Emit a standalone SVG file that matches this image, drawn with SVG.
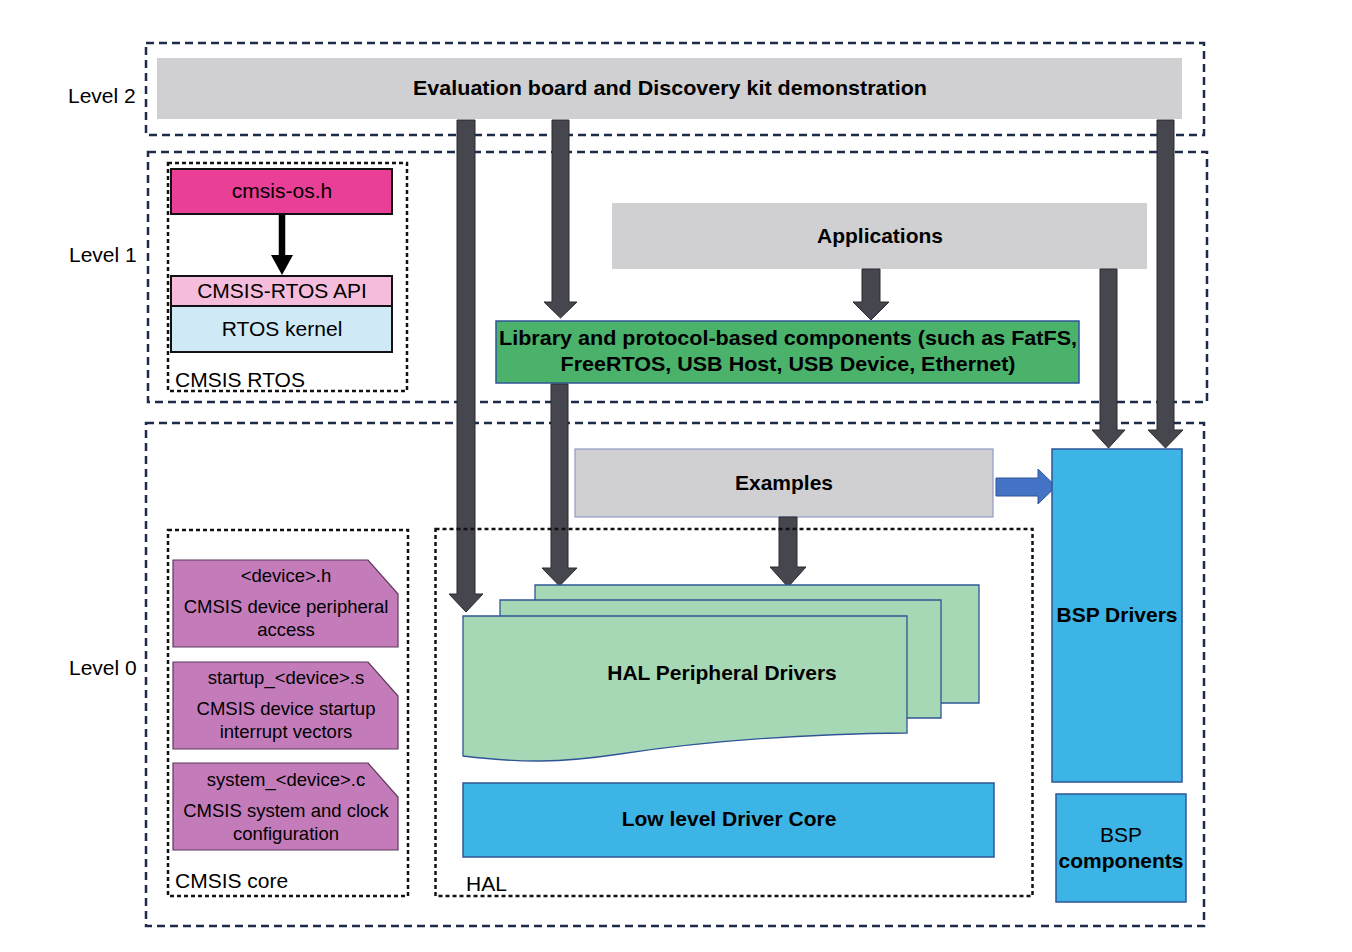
<svg xmlns="http://www.w3.org/2000/svg" width="1352" height="952" viewBox="0 0 1352 952">
<style>
text{font-family:"Liberation Sans",Arial,sans-serif;fill:#000}
.lvl{font-size:21px}
.b{font-weight:bold;font-size:21px}
.r21{font-size:21px}
.r18{font-size:18.5px}
.dash{fill:none;stroke:#1c2b4a;stroke-width:2.5;stroke-dasharray:8 5}
.dot{fill:none;stroke:#111;stroke-width:2.5;stroke-dasharray:4 3}
.gray{fill:#d0d0d2}
.arr{fill:#46464f;stroke:#2a2a30;stroke-width:1}
.purple{fill:#c47bba;stroke:#5a3a58;stroke-width:1.2}
.blue{fill:#3cb4e5;stroke:#2f5597;stroke-width:1.5}
.hal{fill:#a6d8b6;stroke:#2f5597;stroke-width:1.3}
</style>
<rect width="1352" height="952" fill="#fff"/>

<g id="levels">
<rect class="dash" x="146" y="43" width="1058" height="92"/>
<rect class="dash" x="148" y="152" width="1059" height="250"/>
<rect class="dash" x="146" y="423" width="1058" height="503"/>
<text class="lvl" x="68" y="103">Level 2</text>
<text class="lvl" x="69" y="262">Level 1</text>
<text class="lvl" x="69" y="675">Level 0</text>
</g>

<g id="eval">
<rect class="gray" x="157" y="58" width="1025" height="61"/>
<text class="b" x="670" y="95" text-anchor="middle" textLength="514" lengthAdjust="spacingAndGlyphs">Evaluation board and Discovery kit demonstration</text>
</g>

<g id="applications">
<rect class="gray" x="612" y="203" width="535" height="66"/>
<text class="b" x="880" y="243" text-anchor="middle">Applications</text>
</g>

<g id="library">
<rect x="496" y="321" width="583" height="62" fill="#4bb26c" stroke="#2f5597" stroke-width="1.5"/>
<text class="b" x="788" y="345" text-anchor="middle" textLength="578" lengthAdjust="spacingAndGlyphs">Library and protocol-based components (such as FatFS,</text>
<text class="b" x="788" y="371" text-anchor="middle" textLength="455" lengthAdjust="spacingAndGlyphs">FreeRTOS, USB Host, USB Device, Ethernet)</text>
</g>

<g id="examples">
<rect class="gray" x="575" y="449" width="418" height="68" stroke="#8f9cc4" stroke-width="1.2"/>
<text class="b" x="784" y="490" text-anchor="middle">Examples</text>
</g>

<g id="connectors">
<path class="arr" d="M457,120 H475 V594 H483 L466,612 L449,594 H457 Z"/>
<path class="arr" d="M552,120 H569 V302 H577 L560.5,318 L544,302 H552 Z"/>
<path class="arr" d="M862,269 H880 V302 H889 L871,320 L853,302 H862 Z"/>
<path class="arr" d="M1100,269 H1117 V430 H1125 L1108.5,448 L1092,430 H1100 Z"/>
<path class="arr" d="M1157,120 H1174 V430 H1183 L1165.5,448 L1148,430 H1157 Z"/>
<path class="arr" d="M551,384 H568 V568 H577 L559.5,586 L542,568 H551 Z"/>
<path class="arr" d="M779,517 H797 V567 H806 L788,587 L770,567 H779 Z"/>
<path d="M996,478 H1038 V469 L1056,486.5 L1038,504 V496 H996 Z" fill="#4472c4" stroke="#2f5597" stroke-width="1"/>
<line x1="282" y1="214" x2="282" y2="257" stroke="#000" stroke-width="6.5"/>
<polygon points="271,255 293,255 282,275" fill="#000"/>
</g>

<g id="cmsis-rtos">
<rect class="dot" x="168" y="163" width="239" height="228"/>
<rect x="171" y="169" width="221" height="45" fill="#ea3f97" stroke="#111" stroke-width="2"/>
<text class="r21" x="282" y="198" text-anchor="middle">cmsis-os.h</text>
<rect x="171" y="276" width="221" height="30" fill="#f5bcdc" stroke="#111" stroke-width="2"/>
<text class="r21" x="282" y="298" text-anchor="middle">CMSIS-RTOS API</text>
<rect x="171" y="306" width="221" height="46" fill="#cfe9f6" stroke="#111" stroke-width="2"/>
<text class="r21" x="282" y="336" text-anchor="middle">RTOS kernel</text>
<text class="r21" x="175" y="387">CMSIS RTOS</text>
</g>

<g id="cmsis-core">
<rect class="dot" x="168" y="530" width="240" height="366"/>
<path class="purple" d="M173,560 H368 L398,594 V647 H173 Z"/>
<text class="r18" x="286" y="582" text-anchor="middle">&lt;device&gt;.h</text>
<text class="r18" x="286" y="613" text-anchor="middle">CMSIS device peripheral</text>
<text class="r18" x="286" y="636" text-anchor="middle">access</text>
<path class="purple" d="M173,662 H368 L398,696 V749 H173 Z"/>
<text class="r18" x="286" y="684" text-anchor="middle">startup_&lt;device&gt;.s</text>
<text class="r18" x="286" y="715" text-anchor="middle">CMSIS device startup</text>
<text class="r18" x="286" y="738" text-anchor="middle">interrupt vectors</text>
<path class="purple" d="M173,763 H368 L398,797 V850 H173 Z"/>
<text class="r18" x="286" y="786" text-anchor="middle">system_&lt;device&gt;.c</text>
<text class="r18" x="286" y="817" text-anchor="middle">CMSIS system and clock</text>
<text class="r18" x="286" y="840" text-anchor="middle">configuration</text>
<text class="r21" x="175" y="888">CMSIS core</text>
</g>

<g id="hal">
<rect class="dot" x="435.5" y="529" width="597" height="367"/>
<path class="hal" d="M535,585 H979 V703 H535 Z"/>
<path class="hal" d="M500,600 H941 V718 H500 Z"/>
<path class="hal" d="M463,616 H907 V733 C800,734 700,742 620,754 C560,763 520,763 463,756 Z"/>
<text class="b" x="722" y="680" text-anchor="middle">HAL Peripheral Drivers</text>
<rect class="blue" x="463" y="783" width="531" height="74"/>
<text class="b" x="729" y="826" text-anchor="middle">Low level Driver Core</text>
<text class="r21" x="466" y="891">HAL</text>
</g>

<g id="bsp-drivers">
<rect class="blue" x="1052" y="449" width="130" height="333"/>
<text class="b" x="1117" y="622" text-anchor="middle">BSP Drivers</text>
</g>

<g id="bsp-components">
<rect class="blue" x="1056" y="794" width="130" height="108"/>
<text class="r21" x="1121" y="842" text-anchor="middle">BSP</text>
<text class="b" x="1121" y="868" text-anchor="middle">components</text>
</g>
</svg>
